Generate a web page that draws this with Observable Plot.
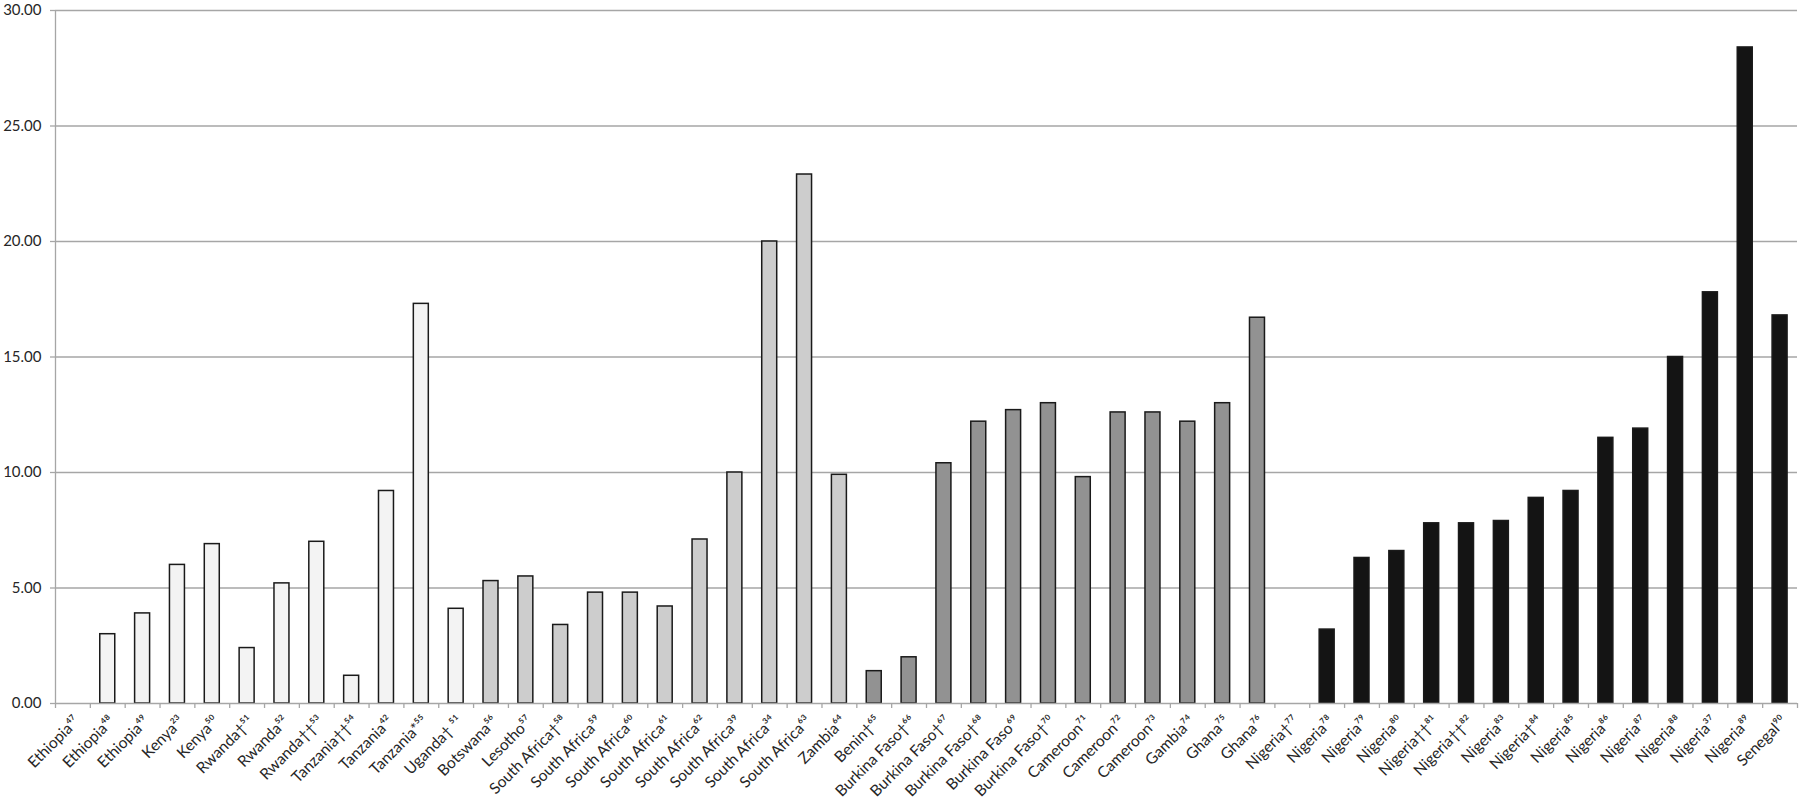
<!DOCTYPE html>
<html>
<head>
<meta charset="utf-8">
<script src="https://cdn.jsdelivr.net/npm/d3@7"></script>
<script src="https://cdn.jsdelivr.net/npm/@observablehq/plot@0.6"></script>
<style>
  html, body { margin: 0; padding: 0; background: #fff; }
  #chart svg { display: block; }
</style>
</head>
<body>
<div id="chart"></div>
<script>
// Category labels (reference numbers kept as superscripts)
const labels = [
  "Ethiopia⁴⁷", "Ethiopia⁴⁸", "Ethiopia⁴⁹", "Kenya²³", "Kenya⁵⁰",
  "Rwanda†⁵¹", "Rwanda⁵²", "Rwanda††⁵³", "Tanzania††⁵⁴", "Tanzania⁴²",
  "Tanzania*⁵⁵", "Uganda† ⁵¹", "Botswana⁵⁶", "Lesotho⁵⁷", "South Africa†⁵⁸",
  "South Africa⁵⁹", "South Africa⁶⁰", "South Africa⁶¹", "South Africa⁶²", "South Africa³⁹",
  "South Africa³⁴", "South Africa⁶³", "Zambia⁶⁴", "Benin†⁶⁵", "Burkina Faso†⁶⁶",
  "Burkina Faso†⁶⁷", "Burkina Faso†⁶⁸", "Burkina Faso⁶⁹", "Burkina Faso†⁷⁰", "Cameroon⁷¹",
  "Cameroon⁷²", "Cameroon⁷³", "Gambia⁷⁴", "Ghana⁷⁵", "Ghana⁷⁶",
  "Nigeria†⁷⁷", "Nigeria⁷⁸", "Nigeria⁷⁹", "Nigeria⁸⁰", "Nigeria††⁸¹",
  "Nigeria††⁸²", "Nigeria⁸³", "Nigeria†⁸⁴", "Nigeria⁸⁵", "Nigeria⁸⁶",
  "Nigeria⁸⁷", "Nigeria⁸⁸", "Nigeria³⁷", "Nigeria⁸⁹", "Senegal⁹⁰"
];

// Values
const values = [
  0, 3.0, 3.9, 6.0, 6.9,
  2.4, 5.2, 7.0, 1.2, 9.2,
  17.3, 4.1, 5.3, 5.5, 3.4,
  4.8, 4.8, 4.2, 7.1, 10.0,
  20.0, 22.9, 9.9, 1.4, 2.0,
  10.4, 12.2, 12.7, 13.0, 9.8,
  12.6, 12.6, 12.2, 13.0, 16.7,
  0, 3.2, 6.3, 6.6, 7.8,
  7.8, 7.9, 8.9, 9.2, 11.5,
  11.9, 15.0, 17.8, 28.4, 16.8
];

// Shading group for each bar
const groups = [
  "g1", "g1", "g1", "g1", "g1",
  "g1", "g1", "g1", "g1", "g1",
  "g1", "g1", "g2", "g2", "g2",
  "g2", "g2", "g2", "g2", "g2",
  "g2", "g2", "g2", "g3", "g3",
  "g3", "g3", "g3", "g3", "g3",
  "g3", "g3", "g3", "g3", "g3",
  "g4", "g4", "g4", "g4", "g4",
  "g4", "g4", "g4", "g4", "g4",
  "g4", "g4", "g4", "g4", "g4"
];

const groupDomain = ["g1", "g2", "g3", "g4"];
const groupColors = ["#f3f3f3", "#cdcdcd", "#929292", "#141414"];
const yTicks = [0, 5, 10, 15, 20, 25, 30];

const data = labels.map((label, i) => ({ label, value: values[i], group: groups[i] }));

const W = 1800, H = 801;
const mL = 55, mR = 3, mT = 10, mB = 98;
const step = (W - mL - mR) / labels.length;
const gridColor = "#a6a6a6";
const textColor = "#262626";

const chart = Plot.plot({
  width: W,
  height: H,
  marginLeft: mL,
  marginRight: mR,
  marginTop: mT,
  marginBottom: mB,
  style: { fontFamily: "Lato, 'DejaVu Sans', sans-serif", background: "#fff", color: textColor },
  x: { type: "band", domain: labels, paddingInner: 0.57, paddingOuter: 0.285, axis: null, label: null },
  y: { domain: [0, 30], axis: null, label: null },
  color: { domain: groupDomain, range: groupColors },
  marks: [
    // horizontal gridlines
    Plot.ruleY(yTicks.slice(1), { stroke: gridColor, strokeWidth: 1.3 }),
    // y axis line
    Plot.ruleX([labels[0]], { dx: -step / 2, y1: 0, y2: 30, stroke: gridColor, strokeWidth: 1.3 }),
    // y axis ticks + labels
    Plot.axisY(yTicks, {
      anchor: "left",
      label: null,
      tickSize: 5,
      tickPadding: 9,
      stroke: gridColor,
      strokeWidth: 1.3,
      fill: textColor,
      fontSize: 15,
      tickFormat: d => d.toFixed(2)
    }),
    // bars
    Plot.barY(data, {
      filter: d => d.value > 0,
      x: "label",
      y: "value",
      fill: "group",
      stroke: "#1a1a1a",
      strokeWidth: 1.5
    }),
    // x axis baseline
    Plot.ruleY([0], { stroke: gridColor, strokeWidth: 1.3 }),
    // x ticks at category boundaries
    Plot.axisX(labels, {
      anchor: "bottom",
      label: null,
      tickSize: 5,
      dx: -step / 2,
      stroke: gridColor,
      strokeWidth: 1.3,
      tickFormat: () => ""
    }),
    Plot.axisX([labels[labels.length - 1]], {
      anchor: "bottom",
      label: null,
      tickSize: 5,
      dx: step / 2,
      stroke: gridColor,
      strokeWidth: 1.3,
      tickFormat: () => ""
    }),
    // x labels, rotated
    Plot.axisX(labels, {
      anchor: "bottom",
      label: null,
      tickSize: 0,
      tickPadding: 11,
      rotate: -45,
      textAnchor: "end",
      fill: textColor,
      fontSize: 15.5
    })
  ]
});

document.getElementById("chart").appendChild(chart);
</script>
</body>
</html>
